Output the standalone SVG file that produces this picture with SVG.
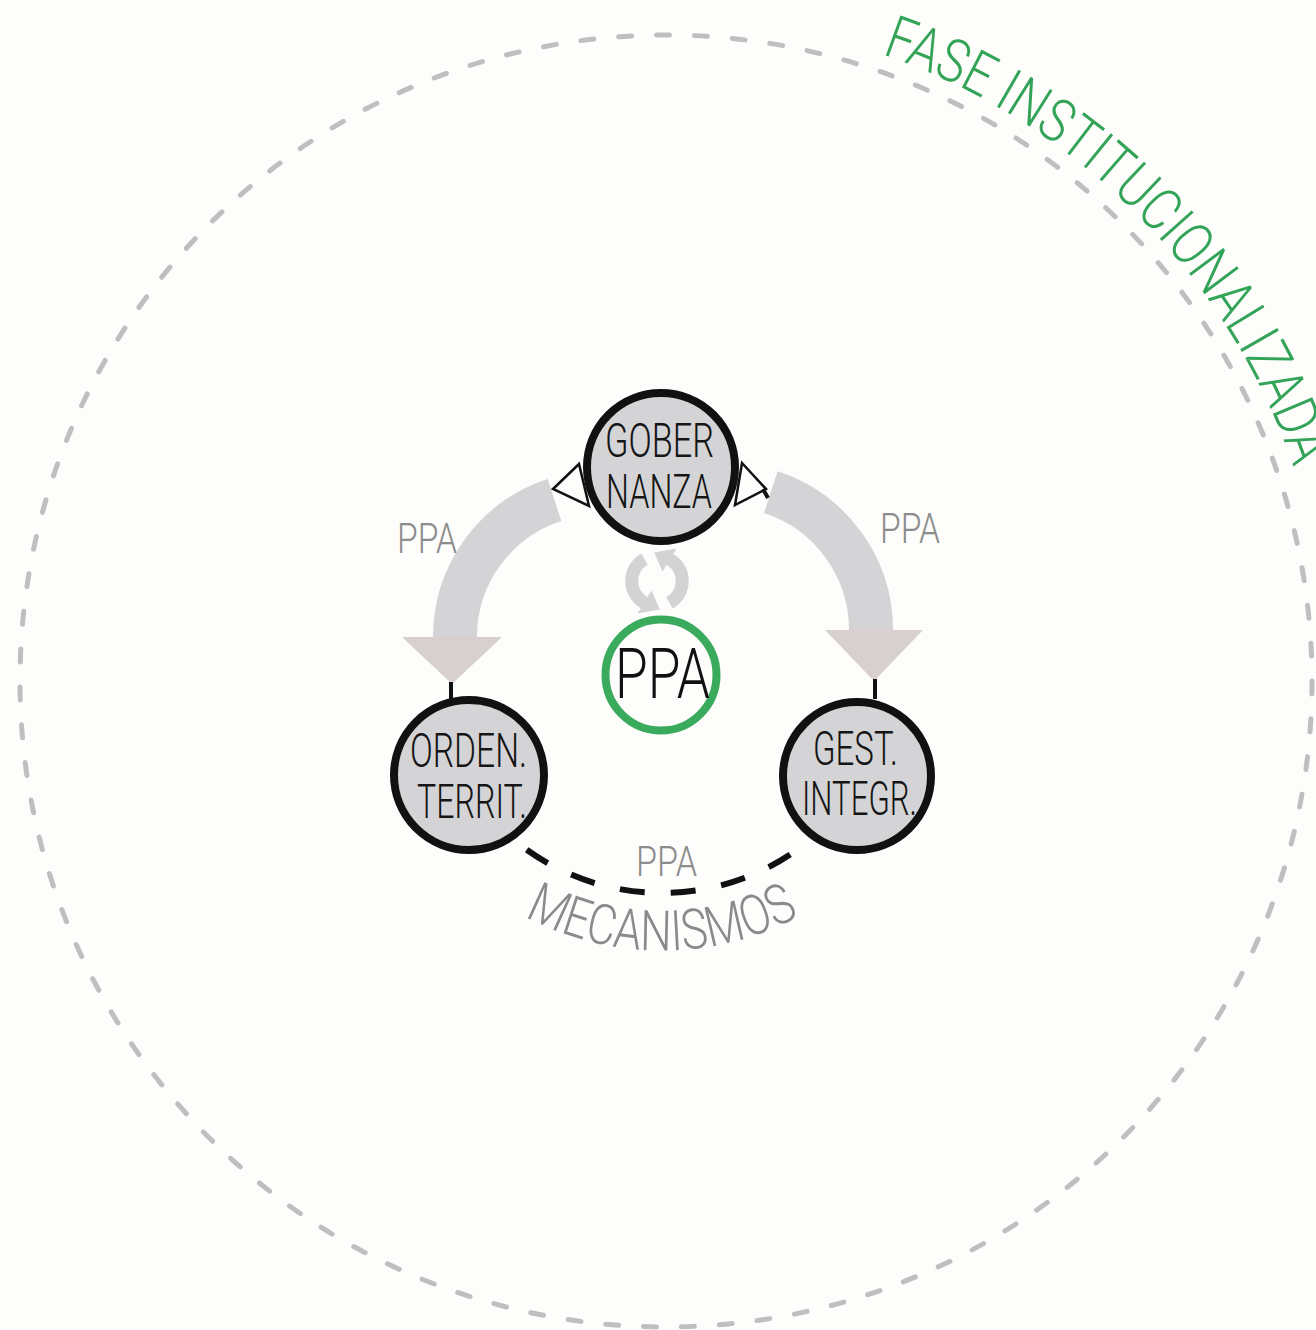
<svg xmlns="http://www.w3.org/2000/svg" width="1316" height="1330" viewBox="0 0 1316 1330">
<defs>
<style>
.t{font-family:Roboto,"Liberation Sans",sans-serif;font-weight:300}
.node circle{fill:#d4d4d7;stroke:#111;stroke-width:8}
.nt{font-size:48px;fill:#151515}
.lbl{font-size:43px;fill:#8c8c8c}
.band{fill:none;stroke:#d4d4d6;stroke-width:44}
.head{fill:#d8d0ce}
.tick{stroke:#111;stroke-width:4}
.tri{fill:#fdfdfb;stroke:#111;stroke-width:2.5;stroke-linejoin:miter}
.rec{fill:none;stroke:#d3d3d3;stroke-width:13}
</style>
<path id="fasePath" d="M781.1,28.1 A663,663 0 0 1 1326.5,623.2"/>
<path id="mecPath" d="M410,806 A292,292 0 0 0 914,806"/>
</defs>
<rect width="1316" height="1330" fill="#fdfdfb"/>
<g id="phase">
<circle cx="666" cy="681" r="646" fill="none" stroke="#bfbfbf" stroke-width="5" stroke-dasharray="13 24.93" stroke-linecap="round"/>
<text class="t" font-size="60" fill="#33a457"><textPath href="#fasePath" startOffset="104" textLength="604" lengthAdjust="spacingAndGlyphs">FASE INSTITUCIONALIZADA</textPath></text>
</g>
<g id="connectors">
<path class="band" d="M554.5,500 A144,144 0 0 0 455,637"/>
<polygon class="head" points="402,637 502,637 452,684"/>
<line class="tick" x1="451" y1="682" x2="451" y2="699"/>
<path class="band" d="M770.8,492.1 A145,145 0 0 1 871,630"/>
<polygon class="head" points="825,630 923,630 874,681"/>
<line class="tick" x1="875" y1="679" x2="875" y2="699"/>
<polygon class="tri" points="553,489 579,464 589,506"/>
<polygon class="tri" points="742,463 766,489 735,505"/>
<line class="tick" x1="763" y1="489" x2="768" y2="498"/>
<path d="M526.7,849.7 A233,233 0 0 0 790.6,854.3" fill="none" stroke="#111" stroke-width="6" stroke-dasharray="25 26"/>
<text class="t lbl" x="397" y="553" textLength="60" lengthAdjust="spacingAndGlyphs">PPA</text>
<text class="t lbl" x="880" y="543" textLength="60" lengthAdjust="spacingAndGlyphs">PPA</text>
<text class="t lbl" x="636" y="876" textLength="61" lengthAdjust="spacingAndGlyphs">PPA</text>
<text class="t" font-size="56" fill="#8a8a8a" text-anchor="middle"><textPath href="#mecPath" startOffset="50%" textLength="286" lengthAdjust="spacingAndGlyphs">MECANISMOS</textPath></text>
</g>
<g id="cycle">
<path class="rec" d="M644.5,559.2 A25,25 0 0 0 644.5,602.8"/>
<polygon points="637.5,613.4 651.5,590.6 659.8,609.5" fill="#d3d3d3"/>
<path class="rec" d="M669.5,602.8 A25,25 0 0 0 669.5,559.2"/>
<polygon points="676.5,548.6 662.5,571.4 654.2,552.5" fill="#d3d3d3"/>
</g>
<g id="gobernanza" class="node">
<circle cx="661" cy="467" r="74"/>
<text class="t nt" x="605" y="457" textLength="109" lengthAdjust="spacingAndGlyphs">GOBER</text>
<text class="t nt" x="606" y="508" textLength="106" lengthAdjust="spacingAndGlyphs">NANZA</text>
</g>
<g id="orden" class="node">
<circle cx="469" cy="775" r="75"/>
<text class="t nt" x="410" y="767" textLength="117" lengthAdjust="spacingAndGlyphs">ORDEN.</text>
<text class="t nt" x="417" y="818" textLength="110" lengthAdjust="spacingAndGlyphs">TERRIT.</text>
</g>
<g id="gestion" class="node">
<circle cx="857" cy="776" r="74"/>
<text class="t nt" x="813" y="765" textLength="85" lengthAdjust="spacingAndGlyphs">GEST.</text>
<text class="t nt" x="802" y="815" textLength="115" lengthAdjust="spacingAndGlyphs">INTEGR.</text>
</g>
<g id="ppa">
<circle cx="661" cy="675" r="55.5" fill="none" stroke="#3aaa5c" stroke-width="8"/>
<text class="t" font-size="70" fill="#111" x="615" y="698" textLength="95" lengthAdjust="spacingAndGlyphs">PPA</text>
</g>
</svg>
